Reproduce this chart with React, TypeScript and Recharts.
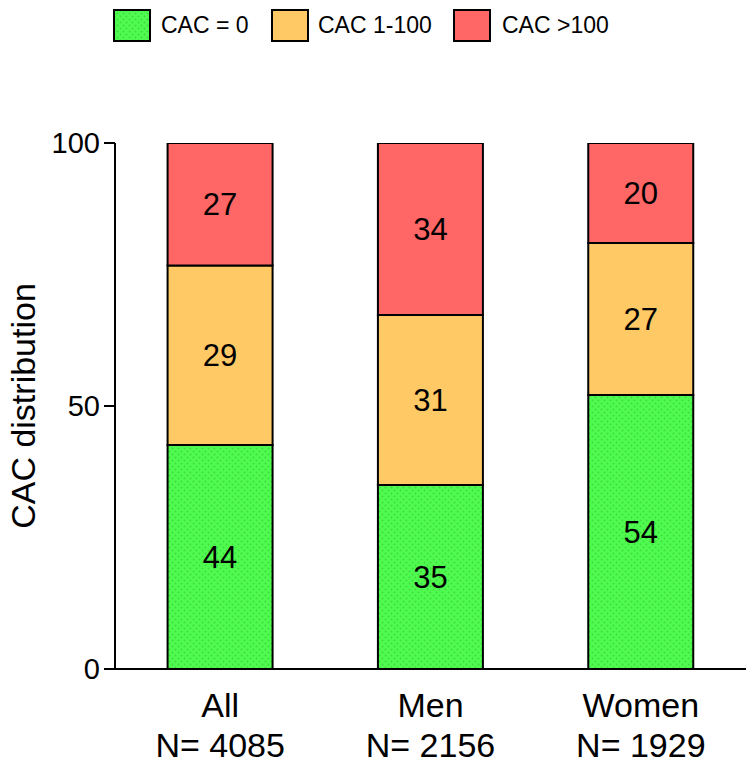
import React from 'react';
import { BarChart, Bar, XAxis, YAxis, Legend, LabelList, Label } from 'recharts';

const categories = ['All', 'Men', 'Women'];
const sampleSizes = ['N= 4085', 'N= 2156', 'N= 1929'];
// segment heights as drawn
const cac0 = [42.6, 35.0, 52.1];
const cac1to100 = [34.1, 32.3, 28.9];
const cacOver100 = [23.3, 32.7, 19.0];
// printed labels
const cac0Labels = [44, 35, 54];
const cac1to100Labels = [29, 31, 27];
const cacOver100Labels = [27, 34, 20];
const yTicks = [0, 50, 100];

const seriesNames = ['CAC = 0', 'CAC 1-100', 'CAC >100'];
const colors = ['url(#greenDots)', '#FFC966', '#FF6666'];

const data = categories.map((c, i) => ({
  name: c,
  n: sampleSizes[i],
  g: cac0[i],
  y: cac1to100[i],
  r: cacOver100[i],
  gl: cac0Labels[i],
  yl: cac1to100Labels[i],
  rl: cacOver100Labels[i],
}));

const FONT = '"Liberation Sans", Arial, Helvetica, sans-serif';

const XTick = (props: any) => {
  const { x, y, payload, index } = props;
  return (
    <g>
      <text x={x} y={y + 48} textAnchor="middle" fontSize={34} fontFamily={FONT} fill="#000">
        {payload.value}
      </text>
      <text x={x} y={y + 88} textAnchor="middle" fontSize={34} fontFamily={FONT} fill="#000">
        {sampleSizes[index]}
      </text>
    </g>
  );
};

const legendPos = [
  { box: 113, text: 161 },
  { box: 271, text: 318 },
  { box: 453, text: 502 },
];

const LegendContent = () => (
  <div style={{ position: 'relative', width: 754, height: 50, fontFamily: FONT }}>
    {seriesNames.map((s, i) => (
      <React.Fragment key={s}>
        <svg
          width={38}
          height={33}
          style={{ position: 'absolute', left: legendPos[i].box, top: 9 }}
        >
          <rect x={1} y={1} width={36} height={31} fill={colors[i]} stroke="#000" strokeWidth={2} />
        </svg>
        <div
          style={{
            position: 'absolute',
            left: legendPos[i].text,
            top: 9,
            height: 33,
            lineHeight: '33px',
            fontSize: 23,
            color: '#000',
            whiteSpace: 'nowrap',
          }}
        >
          {s}
        </div>
      </React.Fragment>
    ))}
  </div>
);

const YLabel = () => (
  <text
    x={35}
    y={406}
    transform="rotate(-90, 35, 406)"
    textAnchor="middle"
    fontSize={34}
    fontFamily={FONT}
    fill="#000"
  >
    CAC distribution
  </text>
);

export default function App() {
  return (
    <div style={{ position: 'absolute', left: 0, top: 0, width: 754, height: 767, background: '#fff' }}>
      <svg width={0} height={0} style={{ position: 'absolute' }}>
        <defs>
          <pattern id="greenDots" width="6" height="6" patternUnits="userSpaceOnUse">
            <rect x="0" y="0" width="6" height="6" fill="#4FFB4F" />
            <circle cx="1.5" cy="1.5" r="0.9" fill="#3FD83F" />
            <circle cx="4.5" cy="4.5" r="0.9" fill="#3FD83F" />
          </pattern>
        </defs>
      </svg>
      <BarChart
        width={754}
        height={767}
        data={data}
        margin={{ top: 143, right: 8, bottom: 8, left: 55 }}
        barCategoryGap="25%"
      >
        <Legend
          layout="horizontal"
          verticalAlign="middle"
          align="center"
          wrapperStyle={{ top: 0, left: 0, width: 754, height: 50 }}
          content={<LegendContent />}
        />
        <XAxis
          dataKey="name"
          height={90}
          tickSize={0}
          tickMargin={0}
          tickLine={false}
          axisLine={{ stroke: '#000', strokeWidth: 2 }}
          tick={<XTick />}
          interval={0}
        />
        <YAxis
          width={60}
          domain={[0, 100]}
          ticks={yTicks}
          type="number"
          allowDataOverflow
          tickSize={11}
          tickMargin={4}
          tickLine={{ stroke: '#000', strokeWidth: 2 }}
          axisLine={{ stroke: '#000', strokeWidth: 2 }}
          tick={{ fill: '#000', fontSize: 29, fontFamily: FONT }}
        >
          <Label content={<YLabel />} />
        </YAxis>
        <Bar dataKey="g" stackId="a" fill="url(#greenDots)" stroke="#000" strokeWidth={2} isAnimationActive={false} name={seriesNames[0]}>
          <LabelList dataKey="gl" position="center" fill="#000" stroke="none" fontSize={31} fontFamily={FONT} />
        </Bar>
        <Bar dataKey="y" stackId="a" fill={colors[1]} stroke="#000" strokeWidth={2} isAnimationActive={false} name={seriesNames[1]}>
          <LabelList dataKey="yl" position="center" fill="#000" stroke="none" fontSize={31} fontFamily={FONT} />
        </Bar>
        <Bar dataKey="r" stackId="a" fill={colors[2]} stroke="#000" strokeWidth={2} isAnimationActive={false} name={seriesNames[2]}>
          <LabelList dataKey="rl" position="center" fill="#000" stroke="none" fontSize={31} fontFamily={FONT} />
        </Bar>
      </BarChart>
    </div>
  );
}
